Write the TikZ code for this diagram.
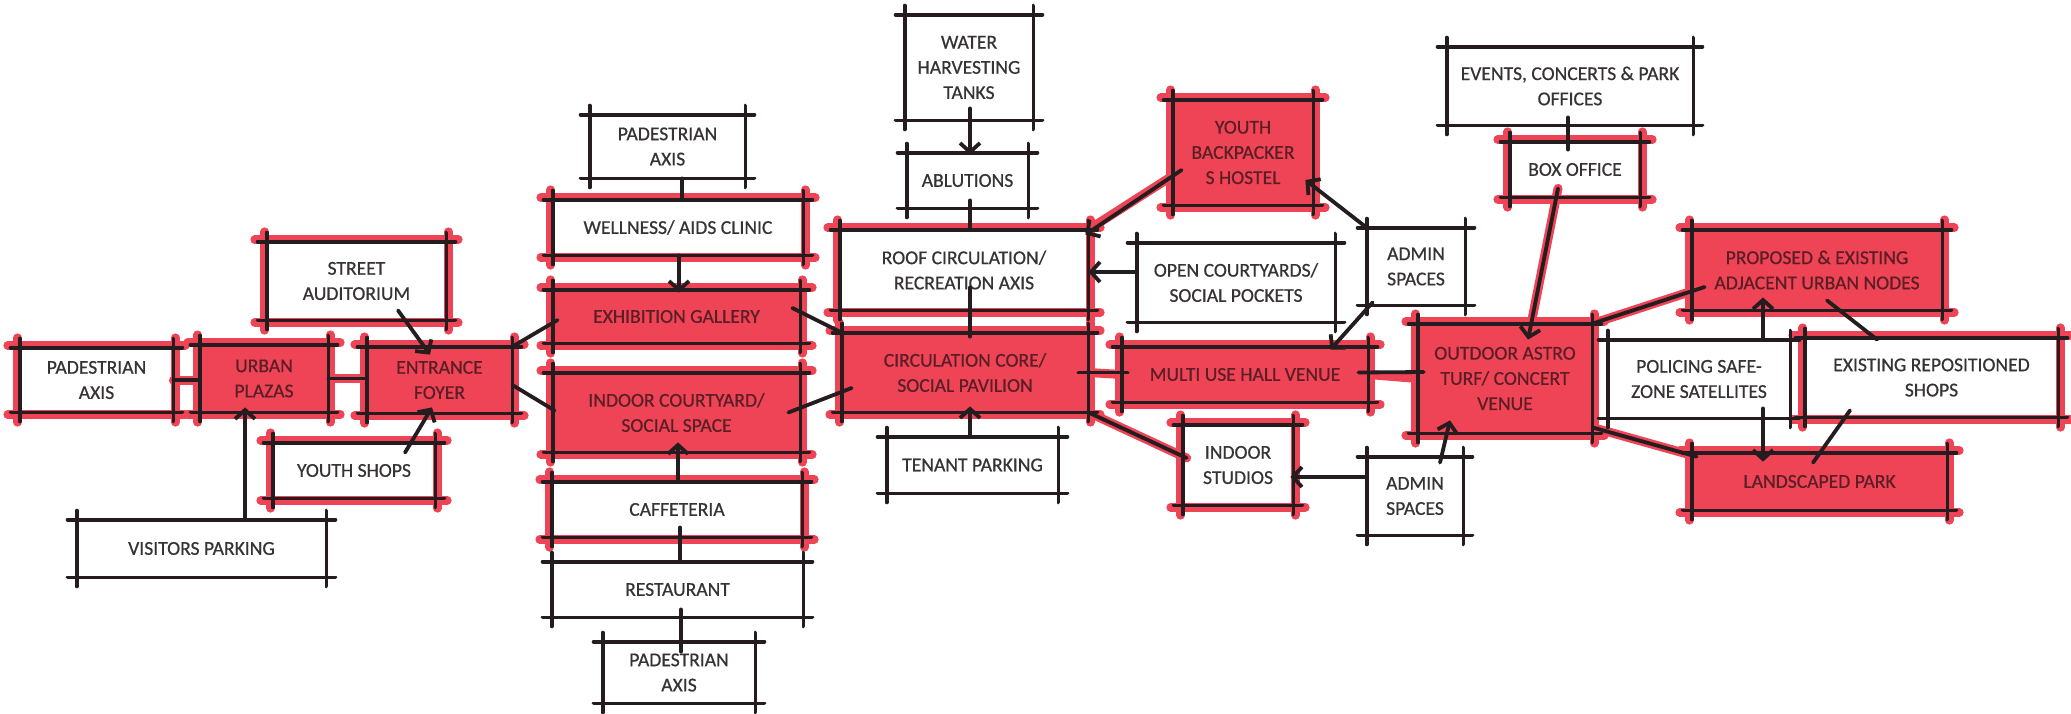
\documentclass[tikz,border=0pt]{standalone}
\usepackage{fontspec}
\setmainfont{Carlito}
\newfontfamily\penfont{Carlito}[FakeBold=0.6]
\usetikzlibrary{arrows.meta,calc}
\definecolor{ink}{RGB}{55,50,52}
\definecolor{inkr}{RGB}{92,30,38}
\definecolor{pen}{RGB}{36,28,30}
\definecolor{mk}{RGB}{238,68,86}
\newcommand\lbl{\penfont\fontsize{9.8}{12.6}\selectfont}
\pgfdeclarelayer{bg}
\pgfsetlayers{bg,main}
\tikzset{
  box/.style={inner sep=0pt, align=center, font=\lbl, text=ink},
  onred/.style={text=inkr},
  skl/.style={draw=pen, line width=1.9pt, line cap=round},
  hal/.style={draw=mk, line width=4.2pt, line cap=round},
  link/.style={draw=pen, line width=1.9pt, line cap=round},
  arr/.style={link, -{Straight Barb[length=4.5pt,width=10pt]}},
  redlink/.style={draw=mk, line width=4.5pt, line cap=round},
}
% box: name, x1, y1, x2, y2, options, text
\newcommand\skbox[7]{\node[box,#6,minimum width={(#4-#2)*0.5pt},minimum height={(#5-#3)*0.5pt}] (#1) at ({(#2+#4)/2},{(#3+#5)/2}) {#7};}
% marker-pen outline with overshooting corners
\newcommand\skedges[1]{%
  \draw[skl] ([shift={(-9,0)}]#1.north west) -- ([shift={(9,0)}]#1.north east);
  \draw[skl] ([shift={(-9,0)}]#1.south west) -- ([shift={(9,0)}]#1.south east);
  \draw[skl] ([shift={(0,-9)}]#1.north west) -- ([shift={(0,9)}]#1.south west);
  \draw[skl] ([shift={(0,-9)}]#1.north east) -- ([shift={(0,9)}]#1.south east);}
% red highlighter strokes along the outline
\newcommand\skhalo[1]{%
  \draw[hal] ([shift={(-12,-2)}]#1.north west) -- ([shift={(12,-2)}]#1.north east);
  \draw[hal] ([shift={(-12,2)}]#1.south west) -- ([shift={(12,2)}]#1.south east);
  \draw[hal] ([shift={(-2,-10)}]#1.north west) -- ([shift={(-2,10)}]#1.south west);
  \draw[hal] ([shift={(2,-10)}]#1.north east) -- ([shift={(2,10)}]#1.south east);}
\begin{document}
\begin{tikzpicture}[x=0.5pt,y=-0.5pt]
\useasboundingbox (0,0) rectangle (2071,713);

% ---- left group
\skbox{pedL}{20}{348}{173}{412}{}{PADESTRIAN\\AXIS}
\skbox{urban}{200}{345}{328}{412}{onred}{URBAN\\PLAZAS}
\skbox{foyer}{367}{347}{512}{413}{onred}{ENTRANCE\\FOYER}
\skbox{street}{267}{242}{446}{320}{}{STREET\\AUDITORIUM}
\skbox{yshops}{273}{443}{435}{498}{}{YOUTH SHOPS}
\skbox{visit}{77}{520}{326}{577}{}{VISITORS PARKING}
% ---- middle column
\skbox{pedTop}{590}{115}{745}{178}{}{PADESTRIAN\\AXIS}
\skbox{well}{553}{200}{803}{255}{}{WELLNESS/ AIDS CLINIC}
\skbox{exhib}{553}{290}{800}{343}{onred}{EXHIBITION GALLERY}
\skbox{court}{553}{373}{800}{452}{onred}{INDOOR COURTYARD/\\SOCIAL SPACE}
\skbox{caff}{552}{482}{802}{537}{}{CAFFETERIA}
\skbox{rest}{552}{562}{803}{617}{}{RESTAURANT}
\skbox{pedBot}{603}{642}{755}{703}{}{PADESTRIAN\\AXIS}
% ---- centre column
\skbox{tanks}{905}{15}{1033}{120}{}{WATER\\HARVESTING\\TANKS}
\skbox{abl}{907}{153}{1028}{208}{}{ABLUTIONS}
\skbox{roof}{840}{230}{1088}{310}{}{ROOF CIRCULATION/\\RECREATION AXIS}
\skbox{core}{842}{333}{1088}{412}{onred}{CIRCULATION CORE/\\SOCIAL PAVILION}
\skbox{tenant}{887}{437}{1058}{493}{}{TENANT PARKING}
% ---- right-centre group
\skbox{hostel}{1173}{100}{1313}{205}{onred}{YOUTH\\BACKPACKER\\S HOSTEL}
\skbox{open}{1137}{243}{1335}{322}{}{OPEN COURTYARDS/\\SOCIAL POCKETS}
\skbox{hall}{1122}{347}{1368}{402}{onred}{MULTI USE HALL VENUE}
\skbox{studio}{1183}{425}{1293}{505}{}{INDOOR\\STUDIOS}
\skbox{adminU}{1367}{228}{1465}{305}{}{ADMIN\\SPACES}
\skbox{adminL}{1367}{457}{1463}{535}{}{ADMIN\\SPACES}
% ---- right group
\skbox{events}{1447}{47}{1693}{125}{}{EVENTS, CONCERTS \& PARK\\OFFICES}
\skbox{boxoff}{1510}{142}{1640}{197}{}{BOX OFFICE}
\skbox{astro}{1418}{324}{1592}{433}{onred}{OUTDOOR ASTRO\\TURF/ CONCERT\\VENUE}
\skbox{prop}{1692}{230}{1942}{310}{onred}{PROPOSED \& EXISTING\\ADJACENT URBAN NODES}
\skbox{police}{1608}{340}{1790}{418}{}{POLICING SAFE-\\ZONE SATELLITES}
\skbox{shops}{1805}{338}{2058}{417}{}{EXISTING REPOSITIONED\\SHOPS}
\skbox{park}{1692}{453}{1947}{510}{onred}{LANDSCAPED PARK}

\begin{pgfonlayer}{bg}
  \fill[white] (0,0) rectangle (2071,713);
  % red marker fills
  \foreach \n in {urban,foyer,exhib,court,core,hostel,hall,astro,prop,park}
    \fill[mk] (\n.north west) rectangle (\n.south east);
  % red marker outlines
  \foreach \n in {pedL,urban,foyer,street,yshops,well,exhib,court,caff,roof,core,hostel,hall,studio,boxoff,astro,prop,shops,park}
    {\skhalo{\n}}
  % red marker along some links
  \draw[redlink] (pedL.east) -- (pedL.east -| urban.west);
  \draw[redlink] (urban.east) -- (urban.east -| foyer.west);
  \draw[redlink] ($(hostel.west)+(9,17.5)$) -- (roof.north east);
  \draw[redlink] (core.east) -- (hall.west);
  \draw[redlink] (core.south east) -- ($(studio.west)+(4,-7)$);
  \draw[redlink] (hall.east) -- (astro.west);
  \draw[redlink] ($(boxoff.south)+(-17,-9)$) -- ($(astro.north)+(23,16)$);
  \draw[redlink] (astro.north east) -- ($(prop.west)+(13,17)$);
  \draw[redlink] ($(astro.south east)+(0,-6)$) -- ($(park.north west)+(5,4)$);
\end{pgfonlayer}

% pen outlines
\foreach \n in {pedL,urban,foyer,street,yshops,visit,pedTop,well,exhib,court,caff,rest,pedBot,tanks,abl,roof,core,tenant,hostel,open,hall,studio,adminU,adminL,events,boxoff,astro,prop,police,shops,park}
  {\skedges{\n}}

% ---- links, left group
\draw[link] (pedL.east) -- (pedL.east -| urban.west);
\draw[link] (urban.east) -- (urban.east -| foyer.west);
\draw[arr] ($(street.south)+(41.5,-10)$) -- ($(foyer.north)+(-9.5,8)$);
\draw[arr] ($(yshops.north)+(51,10)$) -- ($(foyer.south)+(-7.5,-6)$);
\draw[arr] ($(visit.north)+(43.5,0)$) -- ($(urban.south)+(-19,-5)$);
\draw[link] (foyer.north east) -- ($(exhib.west)+(5,3.5)$);
\draw[link] ($(foyer.east)+(0,5)$) -- ($(court.west)+(2,-2)$);
% ---- links, middle column
\draw[link] ($(pedTop.south)+(14.5,0)$) -- ($(well.north)+(4,0)$);
\draw[arr] ($(well.south)+(1,0)$) -- ($(exhib.north)+(2.5,3)$);
\draw[arr] ($(caff.north)+(1,0)$) -- ($(court.south)+(1.5,-10)$);
\draw[link] ($(caff.south)+(3,-10)$) -- ($(rest.north)+(2.5,0)$);
\draw[link] ($(rest.south)+(3.5,-8)$) -- ($(pedBot.north)+(2,10)$);
\draw[link] ($(exhib.east)+(-8,-8.5)$) -- (core.north west);
\draw[link] ($(court.east)+(-12,0)$) -- ($(core.west)+(10,15.5)$);
% ---- links, centre column
\draw[arr] ($(tanks.south)+(1,-12)$) -- ($(abl.north)+(2.5,2)$);
\draw[link] ($(abl.south)+(2.5,-8)$) -- ($(roof.north)+(6,0)$);
\draw[link] ($(roof.south)+(6,-23)$) -- ($(core.north)+(5,4)$);
\draw[arr] ($(tenant.north)+(-2.5,0)$) -- ($(core.south)+(5,-6)$);
% ---- links, right-centre group
\draw[arr] ($(hostel.west)+(9,17.5)$) -- ($(roof.north east)+(-3,5)$);
\draw[arr] ($(open.west)+(0,-10.5)$) -- ($(roof.east)+(0,2)$);
\draw[arr] (adminU.north west) -- ($(hostel.east)+(-8,27.5)$);
\draw[arr] ($(adminU.south west)+(6,-3)$) -- ($(hall.north east)+(-38,3)$);
\draw[link] ($(core.east)+(-10,0)$) -- ($(hall.west)+(6,-2)$);
\draw[link] (core.south east) -- ($(studio.west)+(4,-7)$);
\draw[arr] ($(adminL.west)+(0,-19)$) -- ($(studio.east)+(-3,12)$);
\draw[link] ($(hall.east)+(-10,-2)$) -- ($(astro.west)+(6,-6.5)$);
\draw[arr] ($(adminL.north)+(25,6)$) -- ($(astro.south)+(-55,-13)$);
% ---- links, right group
\draw[link] ($(events.south)+(-2,-8)$) -- ($(boxoff.north)+(-7,8)$);
\draw[arr] ($(boxoff.south)+(-17,-9)$) -- ($(astro.north)+(23,16)$);
\draw[link] (astro.north east) -- ($(prop.west)+(13,17)$);
\draw[link] ($(astro.south east)+(0,-6)$) -- ($(park.north west)+(5,4)$);
\draw[arr] ($(police.north)+(64,0)$) -- ($(prop.south)+(-54,-13)$);
\draw[arr] ($(police.south)+(64,-10)$) -- ($(park.north)+(-56.5,9)$);
\draw[link] ($(shops.north)+(-54.5,2)$) -- ($(prop.south)+(10,-10)$);
\draw[link] ($(shops.south)+(-81.5,-7)$) -- ($(park.north)+(-6.5,10)$);
\end{tikzpicture}
\end{document}
